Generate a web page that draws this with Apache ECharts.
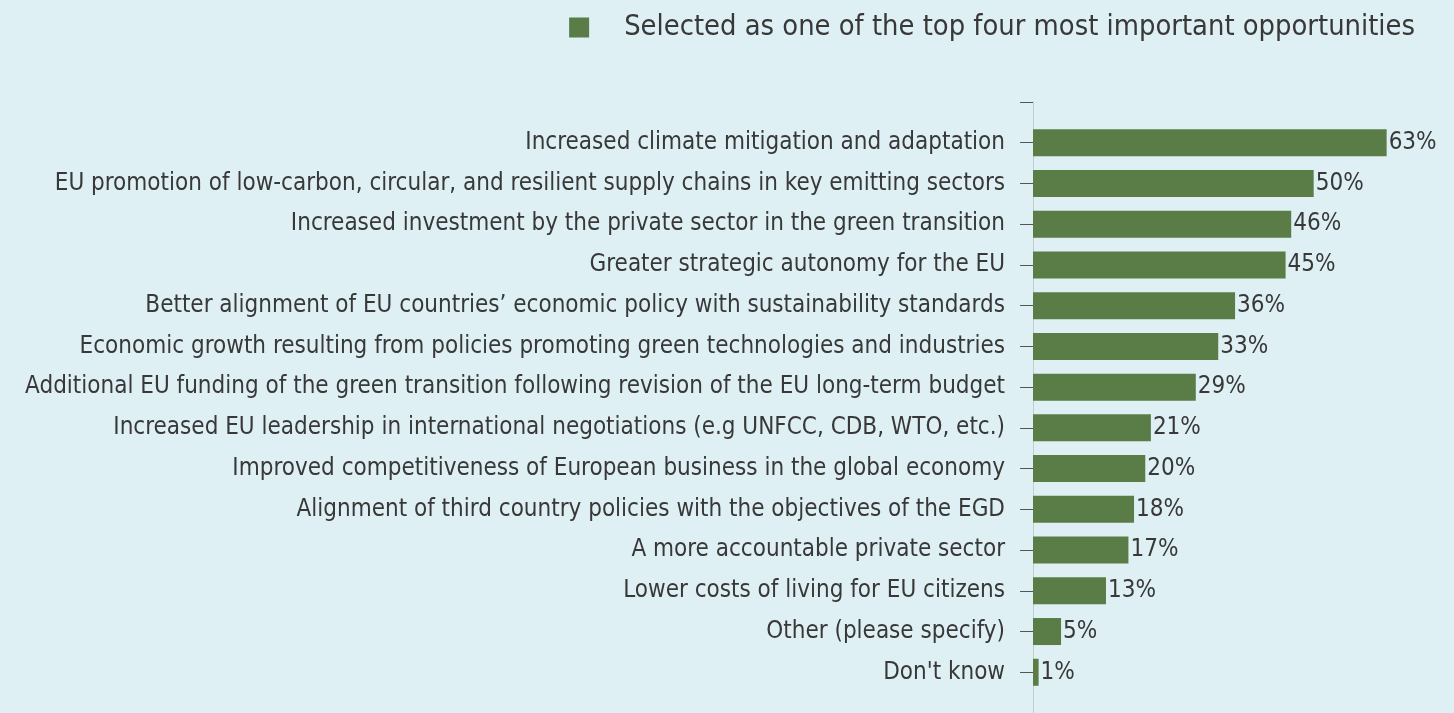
<!DOCTYPE html>
<html>
<head>
<meta charset="utf-8">
<script src="https://cdn.jsdelivr.net/npm/echarts@6/dist/echarts.min.js"></script>
<style>
  html, body { margin: 0; padding: 0; background: #dff0f5; }
  #chart { width: 1454px; height: 713px; }
</style>
</head>
<body>
<div id="chart"></div>
<script>
// answers, top to bottom as drawn
let categories = [
  'Increased climate mitigation and adaptation',
  'EU promotion of low-carbon, circular, and resilient supply chains in key emitting sectors',
  'Increased investment by the private sector in the green transition',
  'Greater strategic autonomy for the EU',
  'Better alignment of EU countries\u2019 economic policy with sustainability standards',
  'Economic growth resulting from policies promoting green technologies and industries',
  'Additional EU funding of the green transition following revision of the EU long-term budget',
  'Increased EU leadership in international negotiations (e.g UNFCC, CDB, WTO, etc.)',
  'Improved competitiveness of European business in the global economy',
  'Alignment of third country policies with the objectives of the EGD',
  'A more accountable private sector',
  'Lower costs of living for EU citizens',
  'Other (please specify)',
  'Don\'t know'
];
let shares = [63, 50, 46, 45, 36, 33, 29, 21, 20, 18, 17, 13, 5, 1];
let seriesName = 'Selected as one of the top four most important opportunities';

// blank slot above and below so the axis runs past the first/last bar
let yCats = [''].concat(categories, ['']);
let yVals = ['-'].concat(shares, ['-']);

let myChart = echarts.init(document.getElementById('chart'));
let font = 'DejaVu Sans Condensed';

myChart.setOption({
  backgroundColor: '#dff0f5',
  animation: false,
  legend: {
    top: 8,
    right: 34,
    itemWidth: 20,
    itemHeight: 20,
    icon: 'rect',
    textStyle: { fontFamily: font, fontSize: 28.8, color: '#383838', padding: [0, 0, 0, 30] },
    data: [seriesName]
  },
  grid: { left: 1033, right: 0, top: 102, bottom: 0 },
  xAxis: {
    type: 'value',
    min: 0,
    max: 75,
    show: false
  },
  yAxis: {
    type: 'category',
    inverse: true,
    boundaryGap: false,
    data: yCats,
    axisLine: { lineStyle: { color: '#c4ccd0', width: 1 } },
    axisTick: { length: 13, lineStyle: { color: '#555' } },
    axisLabel: { margin: 28, fontFamily: font, fontSize: 24, color: '#383838' }
  },
  series: [{
    name: seriesName,
    type: 'bar',
    data: yVals,
    barWidth: 27,
    itemStyle: { color: '#5a7c46' },
    label: {
      show: true,
      position: 'right',
      distance: 2,
      formatter: '{c}%',
      fontFamily: font,
      fontSize: 24,
      color: '#383838',
      padding: [3, 0, 0, 0]
    }
  }]
});
</script>
</body>
</html>
